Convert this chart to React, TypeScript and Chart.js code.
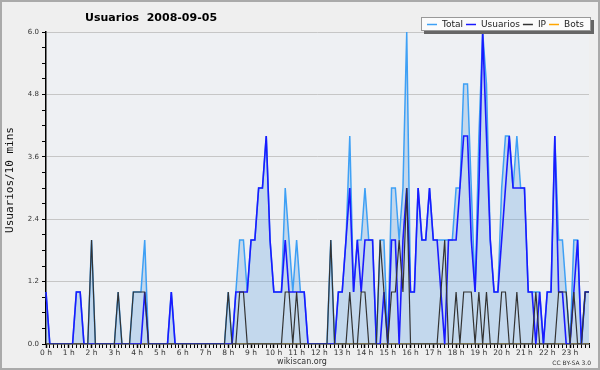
import React, { useEffect, useRef } from 'react';
import { Chart, registerables } from 'chart.js';

Chart.register(...registerables);

const chartTitle = 'Usuarios  2008-09-05';
const yAxisTitle = 'Usuarios/10 mins';
const footerText = 'wikiscan.org';
const licenseText = 'CC BY-SA 3.0';

const hourLabels = [
  '0 h', '1 h', '2 h', '3 h', '4 h', '5 h', '6 h', '7 h', '8 h', '9 h', '10 h', '11 h',
  '12 h', '13 h', '14 h', '15 h', '16 h', '17 h', '18 h', '19 h', '20 h', '21 h', '22 h', '23 h',
];
const slotsPerHour = 6;

const seriesNames = ['Total', 'Usuarios', 'IP', 'Bots'];
const seriesColors = ['#3ea0f5', '#1a1aff', '#333333', '#ffa500'];

const yMax = 6;
const yTickStep = 0.3;
const yLabelStep = 1.2;

// one row per hour, six 10-minute slots each
const totalValues = [
  1, 0, 0, 0, 0, 0,
  0, 0, 1, 1, 0, 0,
  2, 0, 0, 0, 0, 0,
  0, 1, 0, 0, 0, 1,
  1, 1, 2, 0, 0, 0,
  0, 0, 0, 1, 0, 0,
  0, 0, 0, 0, 0, 0,
  0, 0, 0, 0, 0, 0,
  1, 0, 1, 2, 2, 1,
  2, 2, 3, 3, 4, 2,
  1, 1, 1, 3, 2, 1,
  2, 1, 1, 0, 0, 0,
  0, 0, 0, 2, 0, 1,
  1, 2, 4, 1, 2, 2,
  3, 2, 2, 0, 2, 2,
  0, 3, 3, 2, 3, 6,
  1, 1, 3, 2, 2, 3,
  2, 2, 2, 2, 2, 2,
  3, 3, 5, 5, 3, 1,
  4, 6, 5, 2, 1, 1,
  3, 4, 4, 3, 4, 3,
  3, 1, 1, 1, 1, 0,
  1, 1, 4, 2, 2, 1,
  0, 2, 2, 0, 1, 1,
];

const usuariosValues = [
  1, 0, 0, 0, 0, 0,
  0, 0, 1, 1, 0, 0,
  0, 0, 0, 0, 0, 0,
  0, 0, 0, 0, 0, 0,
  0, 0, 1, 0, 0, 0,
  0, 0, 0, 1, 0, 0,
  0, 0, 0, 0, 0, 0,
  0, 0, 0, 0, 0, 0,
  0, 0, 1, 1, 1, 1,
  2, 2, 3, 3, 4, 2,
  1, 1, 1, 2, 1, 1,
  1, 1, 1, 0, 0, 0,
  0, 0, 0, 0, 0, 1,
  1, 2, 3, 1, 2, 1,
  2, 2, 2, 0, 0, 1,
  0, 2, 2, 0, 2, 3,
  1, 1, 3, 2, 2, 3,
  2, 2, 1, 0, 2, 2,
  2, 3, 4, 4, 2, 1,
  3, 6, 4, 2, 1, 1,
  2, 3, 4, 3, 3, 3,
  3, 1, 1, 0, 1, 0,
  1, 1, 4, 1, 1, 0,
  0, 1, 2, 0, 1, 1,
];

const ipValues = [
  0, 0, 0, 0, 0, 0,
  0, 0, 0, 0, 0, 0,
  2, 0, 0, 0, 0, 0,
  0, 1, 0, 0, 0, 1,
  1, 1, 1, 0, 0, 0,
  0, 0, 0, 0, 0, 0,
  0, 0, 0, 0, 0, 0,
  0, 0, 0, 0, 0, 0,
  1, 0, 0, 1, 1, 0,
  0, 0, 0, 0, 0, 0,
  0, 0, 0, 1, 1, 0,
  1, 0, 0, 0, 0, 0,
  0, 0, 0, 2, 0, 0,
  0, 0, 1, 0, 0, 1,
  1, 0, 0, 0, 2, 1,
  0, 1, 1, 2, 1, 3,
  0, 0, 0, 0, 0, 0,
  0, 0, 1, 2, 0, 0,
  1, 0, 1, 1, 1, 0,
  1, 0, 1, 0, 0, 0,
  1, 1, 0, 0, 1, 0,
  0, 0, 0, 1, 0, 0,
  0, 0, 0, 1, 1, 1,
  0, 1, 0, 0, 1, 1,
];

const botsValues = [
  0, 0, 0, 0, 0, 0,
  0, 0, 0, 0, 0, 0,
  0, 0, 0, 0, 0, 0,
  0, 0, 0, 0, 0, 0,
  0, 0, 0, 0, 0, 0,
  0, 0, 0, 0, 0, 0,
  0, 0, 0, 0, 0, 0,
  0, 0, 0, 0, 0, 0,
  0, 0, 0, 0, 0, 0,
  0, 0, 0, 0, 0, 0,
  0, 0, 0, 0, 0, 0,
  0, 0, 0, 0, 0, 0,
  0, 0, 0, 0, 0, 0,
  0, 0, 0, 0, 0, 0,
  0, 0, 0, 0, 0, 0,
  0, 0, 0, 0, 0, 0,
  0, 0, 0, 0, 0, 0,
  0, 0, 0, 0, 0, 0,
  0, 0, 0, 0, 0, 0,
  0, 0, 0, 0, 0, 0,
  0, 0, 0, 0, 0, 0,
  0, 0, 0, 0, 0, 0,
  0, 0, 0, 0, 0, 0,
  0, 0, 0, 0, 0, 0,
];

const slotLabels: string[] = [];
hourLabels.forEach((h) => {
  for (let k = 0; k < slotsPerHour; k++) slotLabels.push(k === 0 ? h : '');
});

const isLabelTick = (v: number) => Math.abs(v / yLabelStep - Math.round(v / yLabelStep)) < 1e-6;

const FONT = '"DejaVu Sans", Verdana, sans-serif';

const decorPlugin = {
  id: 'decor',
  beforeDraw(chart: any) {
    const { ctx, width, height, chartArea } = chart;
    ctx.save();
    ctx.fillStyle = '#efefef';
    ctx.fillRect(0, 0, width, height);
    ctx.fillStyle = '#eef0f3';
    ctx.fillRect(chartArea.left, chartArea.top, chartArea.right - chartArea.left, chartArea.bottom - chartArea.top);
    ctx.restore();
  },
  afterDraw(chart: any) {
    const { ctx, width, height, chartArea } = chart;
    ctx.save();
    // title
    ctx.fillStyle = '#000';
    ctx.font = `bold 11px ${FONT}`;
    ctx.textAlign = 'left';
    ctx.textBaseline = 'alphabetic';
    ctx.fillText(chartTitle, 85, 21);

    // y axis title
    ctx.save();
    ctx.translate(10, (chartArea.top + chartArea.bottom) / 2 - 8);
    ctx.rotate(-Math.PI / 2);
    ctx.font = '11px "DejaVu Sans Mono", monospace';
    ctx.textAlign = 'center';
    ctx.textBaseline = 'middle';
    ctx.fillStyle = '#111';
    ctx.fillText(yAxisTitle, 0, 0);
    ctx.restore();

    // legend box
    const bx = 421, by = 17, bw = 170, bh = 14;
    ctx.fillStyle = '#666';
    ctx.fillRect(bx + 3, by + bh, bw, 3);
    ctx.fillRect(bx + bw, by + 3, 3, bh);
    ctx.fillStyle = '#fbfbfb';
    ctx.fillRect(bx, by, bw, bh);
    ctx.strokeStyle = '#999';
    ctx.lineWidth = 1;
    ctx.strokeRect(bx + 0.5, by + 0.5, bw - 1, bh - 1);
    ctx.font = `9px ${FONT}`;
    ctx.textBaseline = 'middle';
    let x = 427;
    const ly = by + bh / 2 + 0.5;
    seriesNames.forEach((name, i) => {
      ctx.strokeStyle = seriesColors[i];
      ctx.lineWidth = 1.5;
      ctx.beginPath();
      ctx.moveTo(x, ly);
      ctx.lineTo(x + 10, ly);
      ctx.stroke();
      x += 15;
      ctx.fillStyle = '#222';
      ctx.fillText(name, x, ly);
      x += ctx.measureText(name).width + 3;
    });

    // footer
    ctx.fillStyle = '#333';
    ctx.font = `8px ${FONT}`;
    ctx.textAlign = 'center';
    ctx.textBaseline = 'alphabetic';
    ctx.fillText(footerText, 302, 364);
    ctx.font = `6px ${FONT}`;
    ctx.textAlign = 'right';
    ctx.fillText(licenseText, 591, 365);

    // frame
    ctx.strokeStyle = '#aaaaaa';
    ctx.lineWidth = 2;
    ctx.strokeRect(1, 1, width - 2, height - 2);
    ctx.restore();
  },
};

export default function App() {
  const canvasRef = useRef<HTMLCanvasElement | null>(null);

  useEffect(() => {
    const canvas = canvasRef.current;
    if (!canvas) return;
    const chart = new Chart(canvas, {
      type: 'line',
      data: {
        labels: slotLabels,
        datasets: [
          {
            label: seriesNames[2],
            data: ipValues,
            borderColor: seriesColors[2],
            borderWidth: 1.2,
            pointRadius: 0,
            fill: false,
            order: 0,
          },
          {
            label: seriesNames[1],
            data: usuariosValues,
            borderColor: seriesColors[1],
            borderWidth: 1.6,
            pointRadius: 0,
            fill: false,
            order: 1,
          },
          {
            label: seriesNames[0],
            data: totalValues,
            borderColor: seriesColors[0],
            backgroundColor: 'rgba(110,170,225,0.34)',
            borderWidth: 1.5,
            pointRadius: 0,
            fill: 'origin',
            order: 2,
          },
          {
            label: seriesNames[3],
            data: botsValues,
            borderColor: seriesColors[3],
            borderWidth: 1,
            pointRadius: 0,
            fill: false,
            order: 3,
          },
        ],
      },
      options: {
        responsive: false,
        animation: false,
        devicePixelRatio: 1,
        events: [],
        layout: { padding: { top: 32, right: 11, left: 0, bottom: 0 } },
        elements: { line: { tension: 0 } },
        plugins: {
          legend: { display: false },
          title: { display: false },
          tooltip: { enabled: false },
        },
        scales: {
          x: {
            type: 'category',
            offset: false,
            afterFit: (s: any) => { s.height = 26; },
            border: { display: true, color: '#000', width: 1.5 },
            grid: {
              display: true,
              drawOnChartArea: false,
              drawTicks: true,
              tickLength: 4,
              tickColor: '#000',
              tickWidth: (c: any) => (c.index % slotsPerHour === 0 ? 1.5 : 1),
            },
            ticks: {
              autoSkip: false,
              maxRotation: 0,
              minRotation: 0,
              padding: 1,
              color: '#333',
              font: { family: FONT, size: 7.5 },
            },
          },
          y: {
            type: 'linear',
            min: 0,
            max: yMax,
            afterFit: (s: any) => { s.width = 46; },
            border: { display: true, color: '#000', width: 1.5 },
            grid: {
              color: (c: any) =>
                c.tick && isLabelTick(c.tick.value) && c.tick.value > 0 ? '#c6c6c6' : 'rgba(0,0,0,0)',
              lineWidth: 1,
              drawTicks: true,
              tickLength: 4,
              tickColor: '#000',
            },
            ticks: {
              stepSize: yTickStep,
              autoSkip: false,
              padding: 3,
              color: '#333',
              font: { family: FONT, size: 7 },
              callback: (v: any) => (isLabelTick(Number(v)) ? Number(v).toFixed(1) : ''),
            },
          },
        },
      },
      plugins: [decorPlugin],
    } as any);
    return () => chart.destroy();
  }, []);

  return (
    <div style={{ position: 'absolute', left: 0, top: 0, width: 600, height: 370 }}>
      <canvas ref={canvasRef} width={600} height={370} style={{ display: 'block', width: 600, height: 370 }} />
    </div>
  );
}
